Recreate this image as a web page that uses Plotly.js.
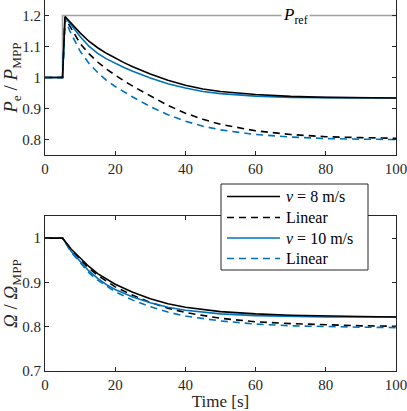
<!DOCTYPE html>
<html>
<head>
<meta charset="utf-8">
<script src="https://cdn.plot.ly/plotly-3.0.1.min.js"></script>
<style>
  html, body { margin: 0; padding: 0; background: #ffffff; }
  #chart { width: 407px; height: 411px; }
  /* MATLAB-like Times look for every svg text */
  #chart text { font-family: 'Liberation Serif', 'Times New Roman', serif !important; }
</style>
</head>
<body>
<div id="chart"></div>
<script>
// Step response: electrical power and rotor speed, normalised to MPP

// power plot (top)
const prefTime = [0, 5, 5, 100];
const prefValues = [1, 1, 1.2, 1.2];

const powerTime = [0, 5, 5.7, 7, 10, 12.5, 15, 17.5, 20, 22.5, 25, 30, 35, 40, 45, 50, 60, 70, 80, 90, 100];
const power8 = [1, 1, 1.197, 1.181, 1.144, 1.117, 1.096, 1.078, 1.062, 1.048, 1.035, 1.011, 0.991, 0.975, 0.963, 0.955, 0.945, 0.939, 0.936, 0.935, 0.934];
const power8Lin = [1, 1, 1.192, 1.168, 1.110, 1.077, 1.050, 1.027, 1.007, 0.989, 0.972, 0.940, 0.910, 0.885, 0.865, 0.849, 0.828, 0.816, 0.809, 0.806, 0.804];
const power10 = [1, 1, 1.195, 1.176, 1.132, 1.101, 1.078, 1.060, 1.045, 1.032, 1.020, 0.998, 0.980, 0.966, 0.955, 0.948, 0.940, 0.936, 0.935, 0.934, 0.934];
const power10Lin = [1, 1, 1.188, 1.152, 1.085, 1.046, 1.016, 0.991, 0.971, 0.953, 0.937, 0.906, 0.880, 0.859, 0.843, 0.831, 0.816, 0.808, 0.803, 0.801, 0.800];

// speed plot (bottom)
const speedTime = [0, 5, 7.5, 10, 12.5, 15, 17.5, 20, 25, 30, 35, 40, 50, 60, 70, 80, 90, 100];
const speed8 = [1, 1, 0.975, 0.955, 0.936, 0.920, 0.907, 0.896, 0.878, 0.863, 0.852, 0.844, 0.834, 0.829, 0.826, 0.824, 0.823, 0.822];
const speed8Lin = [1, 1, 0.973, 0.952, 0.932, 0.916, 0.902, 0.890, 0.871, 0.855, 0.842, 0.832, 0.819, 0.811, 0.807, 0.804, 0.802, 0.801];
const speed10 = [1, 1, 0.970, 0.947, 0.926, 0.909, 0.895, 0.884, 0.867, 0.854, 0.844, 0.837, 0.829, 0.825, 0.823, 0.822, 0.822, 0.822];
const speed10Lin = [1, 1, 0.968, 0.944, 0.922, 0.905, 0.891, 0.879, 0.860, 0.845, 0.833, 0.824, 0.813, 0.806, 0.802, 0.800, 0.799, 0.798];

const legendNames = ['<i>v</i> = 8 m/s', 'Linear', '<i>v</i> = 10 m/s', 'Linear'];

const xTicks = [0, 20, 40, 60, 80, 100];
const powerTicks = [0.8, 0.9, 1, 1.1, 1.2];
const powerTickText = ['0.8', '0.9', '1', '1.1', '1.2'];
const speedTicks = [0.7, 0.8, 0.9, 1];
const speedTickText = ['0.7', '0.8', '0.9', '1'];

const BLACK = '#000000';
const BLUE = '#0072BD';
const GREY = '#a0a0a0';
const AXIS = '#262626';
const DASH = '7px,5px';
const FONT = 'Liberation Serif';

const legendColors = [BLACK, BLACK, BLUE, BLUE];
const legendDashes = ['solid', DASH, 'solid', DASH];

// plot area in pixels (margins below) -> paper coords for the hand-drawn legend
const M = { l: 45, r: 11, t: 0, b: 40 };
const plotW = 407 - M.l - M.r;
const plotH = 411 - M.t - M.b;
const px = (x) => (x - M.l) / plotW;
const py = (y) => 1 - (y - M.t) / plotH;

function makeLine(x, y, color, dash, axis) {
    return {
        type: 'scatter',
        mode: 'lines',
        x: x,
        y: y,
        xaxis: axis === 2 ? 'x2' : 'x',
        yaxis: axis === 2 ? 'y2' : 'y',
        line: { color: color, width: 1.6, dash: dash },
        showlegend: false,
        hoverinfo: 'skip'
    };
}

const data = [
    makeLine(prefTime, prefValues, GREY, 'solid', 1),
    makeLine(powerTime, power8Lin, BLACK, DASH, 1),
    makeLine(powerTime, power10Lin, BLUE, DASH, 1),
    makeLine(powerTime, power10, BLUE, 'solid', 1),
    makeLine(powerTime, power8, BLACK, 'solid', 1),

    makeLine(speedTime, speed8Lin, BLACK, DASH, 2),
    makeLine(speedTime, speed10Lin, BLUE, DASH, 2),
    makeLine(speedTime, speed10, BLUE, 'solid', 2),
    makeLine(speedTime, speed8, BLACK, 'solid', 2)
];

// legend box + entries (MATLAB-style long line samples)
const shapes = [{
    type: 'rect', xref: 'paper', yref: 'paper',
    x0: px(221), x1: px(368), y0: py(270), y1: py(184),
    fillcolor: '#ffffff', line: { color: AXIS, width: 1 }
}];
const annotations = [{
    xref: 'x', yref: 'y',
    x: 71.5, y: 1.2,
    text: '<i>P</i><sub>ref</sub>',
    showarrow: false,
    bgcolor: '#ffffff',
    borderpad: 1,
    font: { family: FONT, size: 17, color: BLACK }
}];
const rowY = [196.5, 217.5, 238, 258.5];
legendNames.forEach((name, i) => {
    shapes.push({
        type: 'line', xref: 'paper', yref: 'paper',
        x0: px(227), x1: px(280), y0: py(rowY[i]), y1: py(rowY[i]),
        line: { color: legendColors[i], width: 1.6, dash: legendDashes[i] }
    });
    annotations.push({
        xref: 'paper', yref: 'paper',
        x: px(284), y: py(rowY[i]),
        xanchor: 'left', yanchor: 'middle',
        text: name,
        showarrow: false,
        font: { family: FONT, size: 16, color: BLACK }
    });
});

const axisCommon = {
    showgrid: false,
    zeroline: false,
    showline: true,
    linecolor: AXIS,
    linewidth: 1,
    mirror: 'ticks',
    ticks: 'inside',
    ticklen: 4,
    tickcolor: AXIS,
    ticklabeloverflow: 'allow',
    tickfont: { family: FONT, size: 15, color: AXIS }
};

const layout = {
    width: 407,
    height: 411,
    margin: M,
    paper_bgcolor: '#ffffff',
    plot_bgcolor: '#ffffff',
    showlegend: false,
    // top plot is cut at its upper edge in the original, so no top line there
    xaxis: Object.assign({}, axisCommon, {
        domain: [0, 1],
        anchor: 'y',
        range: [0, 100],
        mirror: false,
        tickvals: xTicks
    }),
    yaxis: Object.assign({}, axisCommon, {
        domain: [0.5822, 1],
        anchor: 'x',
        range: [0.75, 1.25],
        tickvals: powerTicks,
        ticktext: powerTickText,
        title: {
            text: '<i>P</i><sub>e</sub> / <i>P</i><sub>MPP</sub>',
            font: { family: FONT, size: 19, color: AXIS },
            standoff: 4
        }
    }),
    xaxis2: Object.assign({}, axisCommon, {
        domain: [0, 1],
        anchor: 'y2',
        range: [0, 100],
        tickvals: xTicks,
        title: {
            text: 'Time [s]',
            font: { family: FONT, size: 17, color: AXIS },
            standoff: 0
        }
    }),
    yaxis2: Object.assign({}, axisCommon, {
        domain: [0, 0.4178],
        anchor: 'x2',
        range: [0.7, 1.05],
        tickvals: speedTicks,
        ticktext: speedTickText,
        title: {
            text: '<i>Ω</i> / <i>Ω</i><sub>MPP</sub>',
            font: { family: FONT, size: 19, color: AXIS },
            standoff: 4
        }
    }),
    shapes: shapes,
    annotations: annotations
};

Plotly.newPlot('chart', data, layout, { displayModeBar: false, staticPlot: true });
</script>
</body>
</html>
